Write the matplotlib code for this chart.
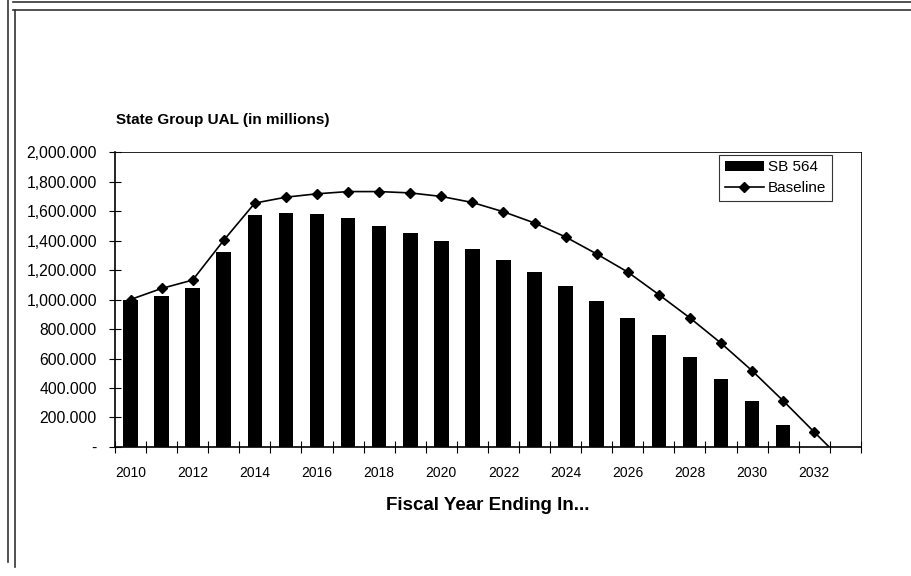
import matplotlib.pyplot as plt
from matplotlib.lines import Line2D
from matplotlib.ticker import FuncFormatter

# State Group UAL, millions of dollars
years_sb = list(range(2010, 2032))
sb564 = [1000, 1025, 1080, 1325, 1575, 1590, 1580, 1550, 1500, 1450, 1395,
         1340, 1268, 1186, 1091, 990, 875, 756, 607, 461, 313, 146]

years_base = list(range(2010, 2034))
baseline = [1000, 1075, 1132, 1402, 1654, 1694, 1717, 1732, 1732, 1723, 1699,
            1658, 1595, 1519, 1424, 1309, 1186, 1033, 875, 704, 517, 313, 101, -110]

label_years = list(range(2010, 2033, 2))

plt.rcParams['font.family'] = ['Liberation Sans', 'DejaVu Sans']

fig = plt.figure(figsize=(9.11, 5.76), dpi=100)
ax = fig.add_axes([0.1262, 0.224, 0.8188, 0.512])

bars = ax.bar(years_sb, sb564, width=0.47, color='black', label='SB 564')
line, = ax.plot(years_base, baseline, color='black', linewidth=1.2, marker='D',
                markersize=5, label='Baseline')

ax.set_xlim(2009.5, 2033.5)
ax.set_ylim(0, 2000)
ax.set_yticks(range(0, 2001, 200))
ax.yaxis.set_major_formatter(FuncFormatter(lambda v, p: '-' if v == 0 else f'{v:,.3f}'))

# tick marks on category boundaries, labels on every other year
ax.set_xticks([y - 0.5 for y in years_base] + [2033.5])
ax.set_xticklabels([])
ax.set_xticks(label_years, minor=True)
ax.set_xticklabels([str(y) for y in label_years], minor=True)
ax.tick_params(axis='x', which='minor', length=0, pad=14, labelsize=10)
ax.tick_params(axis='x', which='major', direction='inout', length=8, width=0.8)
ax.tick_params(axis='y', direction='inout', length=8, width=0.8, labelsize=11.3, pad=9)

for s in ['top', 'right']:
    ax.spines[s].set_linewidth(0.6)
for s in ['left', 'bottom']:
    ax.spines[s].set_linewidth(1.2)

ax.text(0.002, 1.085, 'State Group UAL (in millions)', transform=ax.transAxes,
        fontsize=11, fontweight='bold', ha='left', va='bottom')
ax.set_xlabel('Fiscal Year Ending In...', fontsize=13.5, fontweight='bold', labelpad=12)

leg = ax.legend([bars, line], ['SB 564', 'Baseline'], loc='upper right',
                bbox_to_anchor=(0.961, 0.99), fontsize=11, frameon=True,
                fancybox=False, edgecolor='black', handlelength=2.6,
                handleheight=0.6, handletextpad=0.25, borderpad=0.35,
                labelspacing=0.45, borderaxespad=0)
leg.get_frame().set_linewidth(0.8)

# page border lines
W, H = 911, 576
for x0, y0, x1, y1 in [(13, 2, 911, 2), (13, 10, 911, 10), (8, 0, 8, 562), (15, 10, 15, 567)]:
    fig.add_artist(Line2D([x0 / W, x1 / W], [1 - y0 / H, 1 - y1 / H],
                          transform=fig.transFigure, color='#333333', linewidth=1.2))

fig.savefig('out.png', dpi=100)
